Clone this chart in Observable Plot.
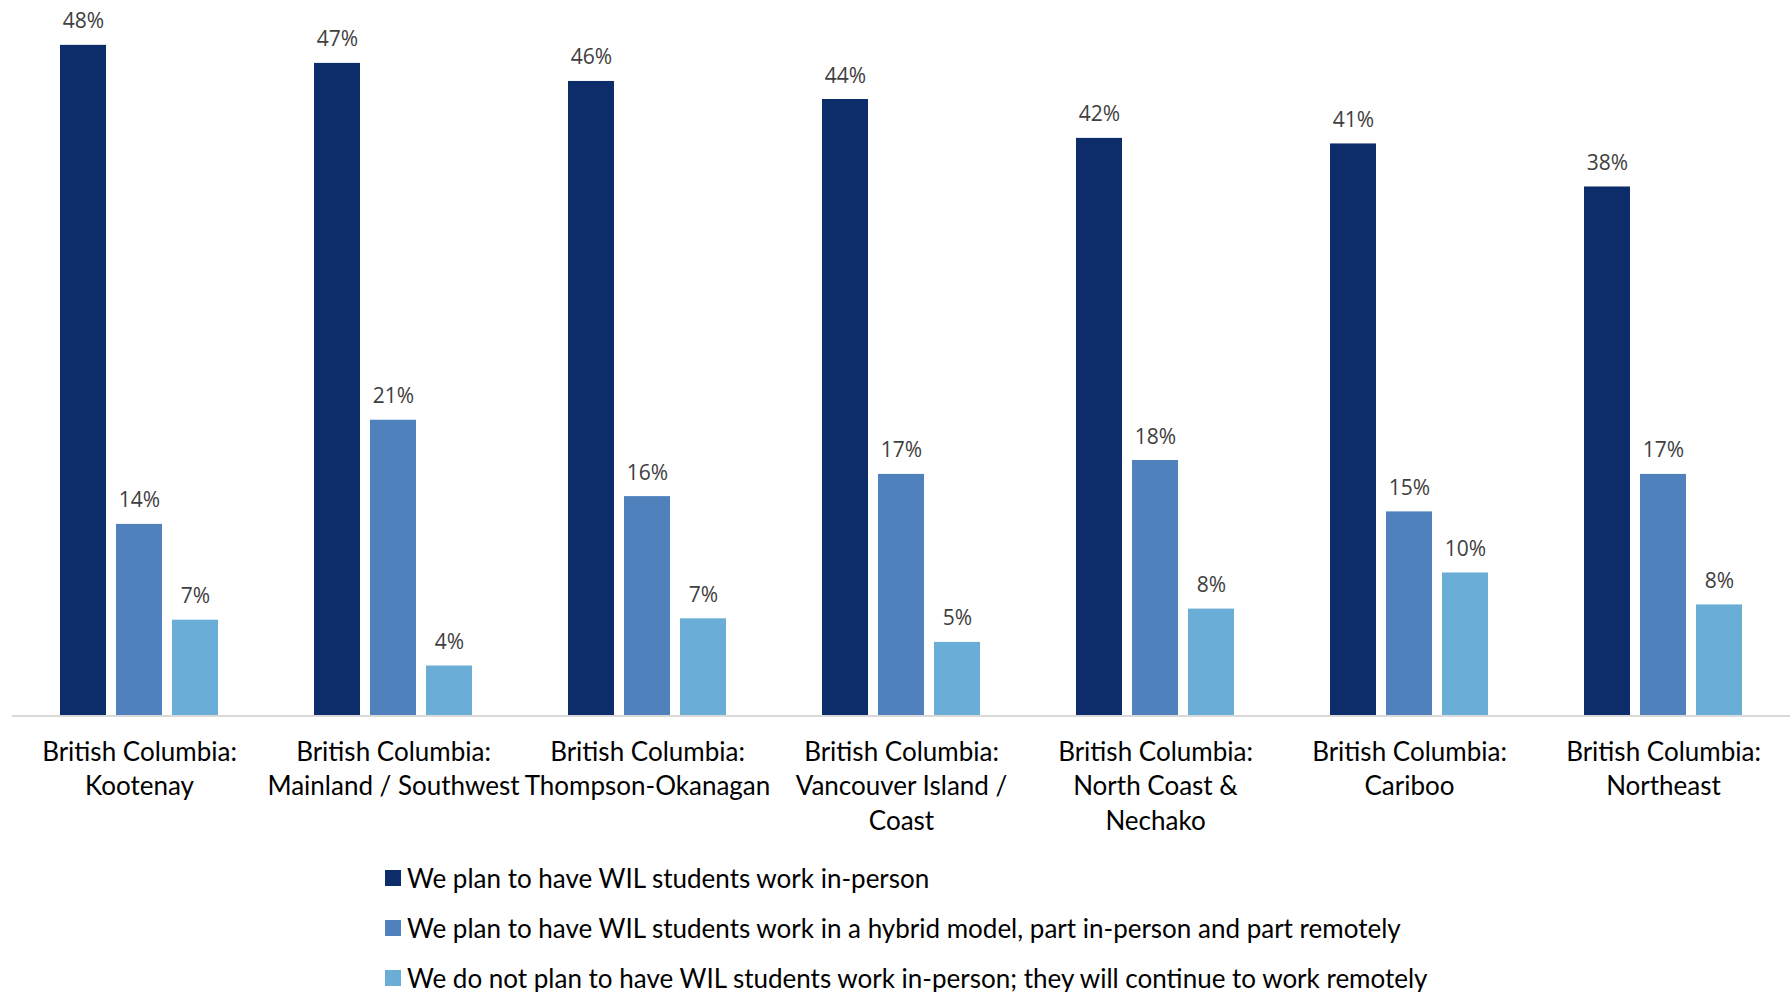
<!DOCTYPE html>
<html><head><meta charset="utf-8">
<script src="https://cdn.jsdelivr.net/npm/d3@7"></script>
<script src="https://cdn.jsdelivr.net/npm/@observablehq/plot@0.6"></script>
<style>
html,body{margin:0;padding:0;background:#fff;overflow:hidden;}
#chart svg{display:block}
#legend{font-family:Lato, sans-serif;font-size:26px;color:#000;padding-top:8px;}
.row{display:flex;align-items:center;height:50px;padding-left:385px;white-space:nowrap}
.sw{width:16px;height:16px;margin-right:6px;flex:none}
</style></head><body>
<div id="chart"></div>
<div id="legend"></div>
<script>
const regions = ["Kootenay","Mainland / Southwest","Thompson-Okanagan","Vancouver Island / Coast","North Coast & Nechako","Cariboo","Northeast"];
const tickLabels = ["British Columbia:\nKootenay","British Columbia:\nMainland / Southwest","British Columbia:\nThompson-Okanagan","British Columbia:\nVancouver Island /\nCoast","British Columbia:\nNorth Coast &\nNechako","British Columbia:\nCariboo","British Columbia:\nNortheast"];
const seriesNames = ["We plan to have WIL students work in-person","We plan to have WIL students work in a hybrid model, part in-person and part remotely","We do not plan to have WIL students work in-person; they will continue to work remotely"];
// values; labels show rounded percentages
const inPerson = [48.3, 47.0, 45.7, 44.4, 41.6, 41.2, 38.1];
const hybrid = [13.8, 21.3, 15.8, 17.4, 18.4, 14.7, 17.4];
const remote = [6.9, 3.6, 7.0, 5.3, 7.7, 10.3, 8.0];
const colors = ["#0d2d6a","#4f81bd","#6aadd6"];

const seriesValues = [inPerson, hybrid, remote];
const data = [];
regions.forEach((r, i) => seriesNames.forEach((s, j) => data.push({region: r, series: s, value: seriesValues[j][i]})));
const labelOf = new Map(regions.map((r, i) => [r, tickLabels[i]]));

const H = 845;
const base = 715.5;
const pxPerPct = 13.885;
const chart = Plot.plot({
  width: 1790, height: H,
  marginLeft: 11, marginRight: 0, marginTop: 0, marginBottom: H - base,
  style: {fontFamily: "Lato, sans-serif", background: "#fff"},
  fx: {domain: regions, paddingInner: 0, paddingOuter: 0, label: null},
  x: {domain: seriesNames, paddingInner: 0.173, paddingOuter: 0.837, axis: null},
  y: {domain: [0, base / pxPerPct], axis: null},
  color: {domain: seriesNames, range: colors},
  marks: [
    Plot.barY(data, {fx: "region", x: "series", y: "value", fill: "series"}),
    Plot.text(data, {fx: "region", x: "series", y: "value", text: d => Math.round(d.value) + "%", dy: -17, lineAnchor: "bottom", fontSize: 21, fill: "#404040", fontFamily: "Open Sans, sans-serif"}),
    Plot.ruleY([0], {stroke: "#d9d9d9", strokeWidth: 2}),
    Plot.axisFx({anchor: "bottom", tickSize: 0, tickPadding: 21, fontSize: 26, lineHeight: 1.315, label: null, tickFormat: d => labelOf.get(d), fill: "#000"})
  ]
});
document.getElementById("chart").append(chart);

const legend = document.getElementById("legend");
seriesNames.forEach((s, j) => {
  const row = document.createElement("div");
  row.className = "row";
  const sw = document.createElement("span");
  sw.className = "sw";
  sw.style.background = colors[j];
  const t = document.createElement("span");
  t.textContent = s;
  row.append(sw, t);
  legend.append(row);
});
</script>
</body></html>
